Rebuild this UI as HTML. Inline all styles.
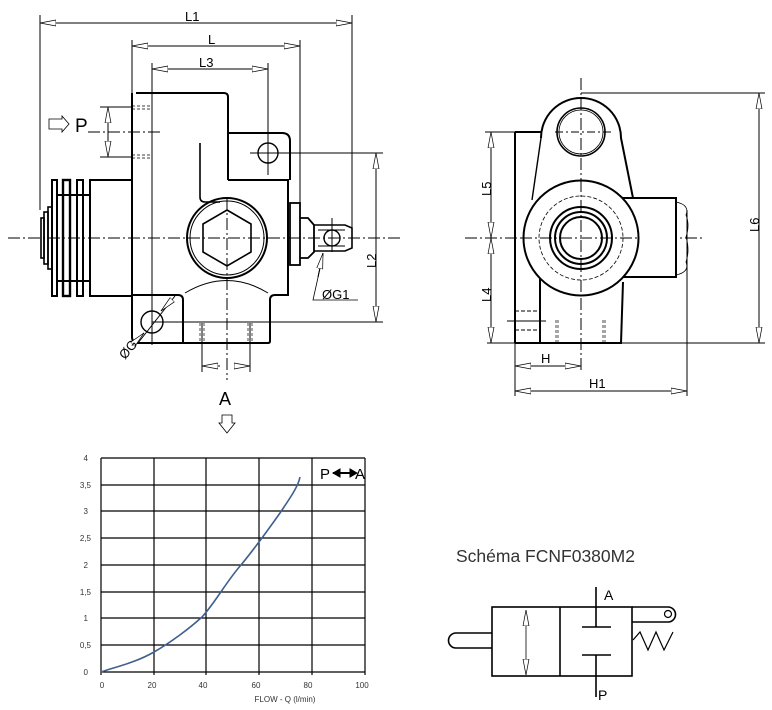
<!DOCTYPE html>
<html><head><meta charset="utf-8"><style>
html,body{margin:0;padding:0;background:#fff;}
svg{display:block;}
text{font-family:"Liberation Sans",sans-serif;}
</style></head><body>
<svg width="772" height="710" viewBox="0 0 772 710" xmlns="http://www.w3.org/2000/svg">
<defs>
<marker id="ae" viewBox="0 0 16 8" refX="16" refY="4" markerWidth="16" markerHeight="8" orient="auto" markerUnits="userSpaceOnUse"><path d="M0,1 L16,4 L0,7 Z" fill="#fff" stroke="#000" stroke-width="0.7"/></marker>
<marker id="as" viewBox="0 0 16 8" refX="0" refY="4" markerWidth="16" markerHeight="8" orient="auto" markerUnits="userSpaceOnUse"><path d="M16,1 L0,4 L16,7 Z" fill="#fff" stroke="#000" stroke-width="0.7"/></marker>
</defs>
<g fill="none" stroke="#000" stroke-width="1">
<line x1="40" y1="23" x2="352" y2="23" marker-start="url(#as)" marker-end="url(#ae)"/>
<line x1="132" y1="46" x2="300" y2="46" marker-start="url(#as)" marker-end="url(#ae)"/>
<line x1="152" y1="69" x2="268" y2="69" marker-start="url(#as)" marker-end="url(#ae)"/>
<line x1="40" y1="15" x2="40" y2="210"/>
<line x1="352" y1="15" x2="352" y2="230"/>
<line x1="132" y1="40" x2="132" y2="93"/>
<line x1="300" y1="40" x2="300" y2="205"/>
<line x1="152" y1="63" x2="152" y2="345"/>
<line x1="268" y1="63" x2="268" y2="175"/>
<line x1="376" y1="153" x2="376" y2="322" marker-start="url(#as)" marker-end="url(#ae)"/>
<line x1="250" y1="153" x2="383" y2="153"/>
<line x1="152" y1="322" x2="383" y2="322"/>
<line x1="108" y1="107" x2="108" y2="157" marker-start="url(#as)" marker-end="url(#ae)"/>
<line x1="100" y1="107" x2="132" y2="107"/><line x1="100" y1="157" x2="132" y2="157"/>
<g stroke-width="0.7" stroke-dasharray="3,2">
<line x1="132" y1="106" x2="152" y2="106"/><line x1="132" y1="109" x2="152" y2="109"/>
<line x1="132" y1="155" x2="152" y2="155"/><line x1="132" y1="158" x2="152" y2="158"/>
</g>
<line x1="88" y1="132" x2="163" y2="132" stroke-dasharray="12,3,2,3"/>
<path d="M49,119 L62,119 L62,116 L69,124 L62,132 L62,129 L49,129 Z" stroke-width="0.8"/>
<path d="M136,93 L224,93 Q228,93 228,97 L228,133 L282,133 Q290,133 290,141 L290,180" stroke-width="2"/>
<path d="M228,133 L228,180" stroke-width="2"/>
<path d="M228,180 L288,180 L288,295 L275,295 Q270,295 270,300 L270,341 Q270,343 268,343 L183,343 L183,300 Q183,295 178,295 L132,295" stroke-width="2"/>
<path d="M132,93 L132,337 Q132,343 138,343 L183,343" stroke-width="2"/>
<path d="M185,293 Q227,268 268,293" stroke-width="1"/>
<path d="M200,143 L200,197 Q200,202 205,202 L220,202" stroke-width="1.6"/>
<circle cx="227" cy="238" r="40" stroke-width="2"/>
<circle cx="227" cy="238" r="37" stroke-width="1"/>
<polygon points="227,210 251,224 251,252 227,266 203,252 203,224" stroke-width="1.6"/>
<circle cx="268" cy="153" r="10" stroke-width="1.4"/>
<line x1="250" y1="153" x2="280" y2="153"/><line x1="268" y1="140" x2="268" y2="175"/>
<circle cx="152" cy="322" r="11" stroke-width="1.4"/>
<line x1="138" y1="343" x2="175" y2="296"/>
<line x1="137" y1="340" x2="144" y2="333" marker-end="url(#ae)"/>
<line x1="168" y1="304" x2="161" y2="311" marker-end="url(#ae)"/>
<rect x="90" y="180" width="42" height="116" stroke-width="2"/>
<line x1="57" y1="195" x2="90" y2="195" stroke-width="2"/>
<line x1="57" y1="281" x2="90" y2="281" stroke-width="2"/>
<rect x="52" y="180" width="5" height="116" stroke-width="2"/>
<rect x="63" y="180" width="7" height="116" stroke-width="2.4"/>
<rect x="77" y="180" width="6" height="116" stroke-width="2"/>
<rect x="48" y="207" width="4" height="62" stroke-width="1.6"/>
<rect x="44" y="212" width="4" height="52" stroke-width="1.6"/>
<rect x="41" y="218" width="3" height="40" stroke-width="1.6"/>
<rect x="290" y="203" width="10" height="62" stroke-width="1.8"/>
<path d="M300,218 L308,218 L314,225 L314,252 L308,258 L300,258" stroke-width="1.8"/>
<path d="M314,225 L345,225 L352,228 L352,248 L345,251 L314,251" stroke-width="1.6"/>
<line x1="318" y1="230" x2="345" y2="230"/><line x1="318" y1="246" x2="345" y2="246"/>
<circle cx="332" cy="238" r="8" stroke-width="1.4"/>
<line x1="332" y1="218" x2="332" y2="252"/>
<path d="M358,300 L313,300 L323,255" stroke-width="0.8"/>
<line x1="318" y1="277" x2="323" y2="253" marker-end="url(#ae)"/>
<line x1="8" y1="238" x2="400" y2="238" stroke-dasharray="12,3,2,3"/>
<line x1="227" y1="198" x2="227" y2="380" stroke-dasharray="12,3,2,3"/>
<line x1="202" y1="323" x2="202" y2="372"/><line x1="250" y1="323" x2="250" y2="372"/>
<g stroke-width="0.7" stroke-dasharray="3,2">
<line x1="200" y1="323" x2="200" y2="343"/><line x1="204" y1="323" x2="204" y2="343"/>
<line x1="248" y1="323" x2="248" y2="343"/><line x1="252" y1="323" x2="252" y2="343"/>
</g>
<line x1="202" y1="366" x2="220" y2="366" marker-start="url(#as)"/>
<line x1="234" y1="366" x2="250" y2="366" marker-end="url(#ae)"/>
<path d="M222,415 L232,415 L232,423 L235,423 L227,433 L219,423 L222,423 Z" stroke-width="0.8"/>

<line x1="581" y1="78" x2="581" y2="372" stroke-dasharray="12,3,2,3"/>
<line x1="465" y1="238" x2="705" y2="238" stroke-dasharray="12,3,2,3"/>
<path d="M541,138 A40,40 0 0 1 621,138 L634,203" stroke-width="2"/>
<path d="M541,138 L532,200" stroke-width="1.4"/>
<circle cx="581" cy="132" r="24" stroke-width="1.6"/>
<circle cx="581" cy="132" r="22" stroke-width="0.8"/>
<line x1="555" y1="132" x2="612" y2="132" stroke-dasharray="8,3,2,3"/>
<path d="M515,132 L541,132" stroke-width="2"/>
<line x1="515" y1="132" x2="515" y2="343" stroke-width="2"/>
<path d="M540,272 L540,343 L621,343 L623,282" stroke-width="2"/>
<line x1="515" y1="343" x2="540" y2="343" stroke-width="2"/>
<rect x="622" y="198" width="54" height="79" stroke-width="2" fill="#fff"/>
<path d="M676,202 Q690,205 686,215 Q690,225 686,237 Q690,250 686,262 Q690,272 676,275" stroke-width="0.8"/>
<circle cx="581" cy="238" r="57.5" stroke-width="2" fill="#fff"/>
<circle cx="581" cy="238" r="42" stroke-width="0.8" stroke-dasharray="4,2"/>
<circle cx="581" cy="238" r="31" stroke-width="2"/>
<circle cx="581" cy="238" r="26" stroke-width="2"/>
<circle cx="581" cy="238" r="21" stroke-width="2"/>
<line x1="581" y1="180" x2="581" y2="296" stroke-dasharray="12,3,2,3"/>
<line x1="520" y1="238" x2="640" y2="238" stroke-dasharray="12,3,2,3"/>
<line x1="515" y1="311" x2="540" y2="311" stroke-dasharray="4,2"/>
<line x1="515" y1="330" x2="540" y2="330" stroke-dasharray="4,2"/>
<line x1="507" y1="321" x2="546" y2="321"/>
<g stroke-width="0.7" stroke-dasharray="3,2">
<line x1="556" y1="320" x2="556" y2="343"/><line x1="558" y1="320" x2="558" y2="343"/>
<line x1="603" y1="320" x2="603" y2="343"/><line x1="605" y1="320" x2="605" y2="343"/>
</g>
<line x1="581" y1="93" x2="765" y2="93"/>
<line x1="487" y1="343" x2="765" y2="343"/>
<line x1="759" y1="93" x2="759" y2="343" marker-start="url(#as)" marker-end="url(#ae)"/>
<line x1="485" y1="132" x2="515" y2="132"/>
<line x1="491" y1="132" x2="491" y2="238" marker-start="url(#as)" marker-end="url(#ae)"/>
<line x1="491" y1="238" x2="491" y2="343" marker-start="url(#as)" marker-end="url(#ae)"/>
<line x1="515" y1="343" x2="515" y2="396"/>
<line x1="687" y1="210" x2="687" y2="396"/>
<line x1="515" y1="366" x2="581" y2="366" marker-start="url(#as)" marker-end="url(#ae)"/>
<line x1="515" y1="391" x2="687" y2="391" marker-start="url(#as)" marker-end="url(#ae)"/>

<g stroke="#000" stroke-width="1.2">
<line x1="101" y1="458" x2="365" y2="458"/>
<line x1="101" y1="485" x2="365" y2="485"/>
<line x1="101" y1="511" x2="365" y2="511"/>
<line x1="101" y1="538" x2="365" y2="538"/>
<line x1="101" y1="565" x2="365" y2="565"/>
<line x1="101" y1="592" x2="365" y2="592"/>
<line x1="101" y1="618" x2="365" y2="618"/>
<line x1="101" y1="645" x2="365" y2="645"/>
<line x1="101" y1="672" x2="365" y2="672"/>
<line x1="101" y1="458" x2="101" y2="675"/>
<line x1="154" y1="458" x2="154" y2="675"/>
<line x1="206" y1="458" x2="206" y2="675"/>
<line x1="259" y1="458" x2="259" y2="675"/>
<line x1="312" y1="458" x2="312" y2="675"/>
<line x1="365" y1="458" x2="365" y2="675"/>
</g>
<path d="M101,672 C115,667 135,663 154,652 C170,643 190,628 202,617 C215,603 226,582 241,565 C255,548 268,530 280,513 C290,498 298,487 300,477" stroke="#3f5f8f" stroke-width="1.6"/>
<line x1="333" y1="473" x2="355" y2="473" stroke-width="2"/>
<path d="M333,473 L340,469 L340,477 Z M357,473 L350,469 L350,477 Z" fill="#000"/>

<rect x="492" y="607" width="140" height="69" stroke-width="1.6"/>
<line x1="560" y1="607" x2="560" y2="676" stroke-width="1.6"/>
<path d="M492,633 L456,633 A7.5,7.5 0 0 0 456,648 L492,648" stroke-width="1.6"/>
<line x1="526" y1="610" x2="526" y2="675" marker-start="url(#as)" marker-end="url(#ae)" stroke-width="0.8"/>
<line x1="596" y1="587" x2="596" y2="627" stroke-width="1.6"/>
<line x1="582" y1="627" x2="611" y2="627" stroke-width="1.6"/>
<line x1="582" y1="655" x2="611" y2="655" stroke-width="1.6"/>
<line x1="596" y1="655" x2="596" y2="697" stroke-width="1.6"/>
<path d="M632,607 L668,607 A7.5,7.5 0 0 1 668,622 L632,622" stroke-width="1.6"/>
<circle cx="668" cy="614" r="3.5" stroke-width="1.2"/>
<polyline points="633,640 640,632 648,650 656,632 664,650 673,632" stroke-width="1.2"/>
</g>

<g font-size="13" fill="#000">
<text x="185" y="21">L1</text>
<text x="208" y="44">L</text>
<text x="199" y="67">L3</text>
<text x="75" y="132" font-size="19">P</text>
<text x="219" y="405" font-size="18">A</text>
<text x="322" y="299" font-size="13">ØG1</text>
<text transform="translate(125,360) rotate(-50)" font-size="13">ØG</text>
<text transform="translate(376,268) rotate(-90)" font-size="13">L2</text>
<text transform="translate(491,196) rotate(-90)" font-size="13">L5</text>
<text transform="translate(491,302) rotate(-90)" font-size="13">L4</text>
<text transform="translate(759,232) rotate(-90)" font-size="13">L6</text>
<text x="541" y="363">H</text>
<text x="589" y="388">H1</text>
</g>
<g font-size="8" fill="#333" text-anchor="end">
<text x="88" y="461">4</text>
<text x="91" y="488">3,5</text>
<text x="88" y="514">3</text>
<text x="91" y="541">2,5</text>
<text x="88" y="568">2</text>
<text x="91" y="595">1,5</text>
<text x="88" y="621">1</text>
<text x="91" y="648">0,5</text>
<text x="88" y="675">0</text>
</g>
<g font-size="8" fill="#333" text-anchor="middle">
<text x="102" y="688">0</text>
<text x="152" y="688">20</text>
<text x="203" y="688">40</text>
<text x="256" y="688">60</text>
<text x="308" y="688">80</text>
<text x="362" y="688">100</text>
<text x="285" y="702">FLOW - Q (l/min)</text>
</g>
<text x="320" y="479" font-size="15" fill="#000">P</text>
<text x="355" y="479" font-size="15" fill="#000">A</text>
<text x="456" y="562" font-size="17.5" fill="#333">Schéma FCNF0380M2</text>
<text x="604" y="600" font-size="14" fill="#000">A</text>
<text x="598" y="700" font-size="14" fill="#000">P</text>
</svg>
</body></html>
